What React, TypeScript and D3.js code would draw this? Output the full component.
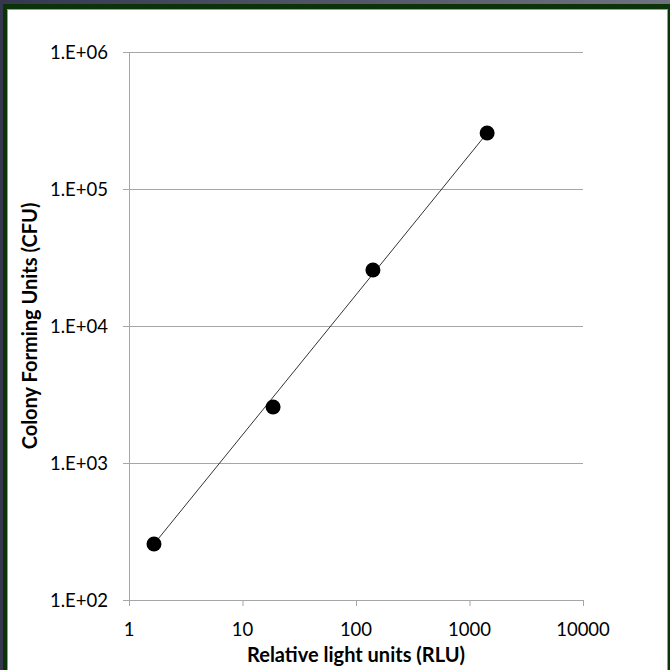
import React, { useEffect, useRef } from "react";
import * as d3 from "d3";

const rluValues = [1.66, 18.6, 141, 1430];
const cfuValues = [256, 2560, 25600, 256000];
const xTicks = [1, 10, 100, 1000, 10000];
const yTicks = [1e2, 1e3, 1e4, 1e5, 1e6];
const yTickLabels = ["1.E+02", "1.E+03", "1.E+04", "1.E+05", "1.E+06"];

const W = 670,
  H = 670;

const App = () => {
  const ref = useRef<SVGSVGElement>(null);

  useEffect(() => {
    const svg = d3.select(ref.current);
    svg.selectAll("*").remove();

    const font = "Lato, 'Open Sans', sans-serif";

    // background frame
    const grad = svg
      .append("defs")
      .append("linearGradient")
      .attr("id", "topgrad")
      .attr("x1", "0")
      .attr("x2", "1");
    grad.append("stop").attr("offset", "0").attr("stop-color", "#35374f");
    grad.append("stop").attr("offset", "1").attr("stop-color", "#70727f");

    svg.append("rect").attr("width", W).attr("height", H).attr("fill", "url(#topgrad)");
    svg
      .append("rect")
      .attr("x", 3)
      .attr("y", 4)
      .attr("width", W - 3)
      .attr("height", H - 4)
      .attr("fill", "#0b3308");
    svg
      .append("rect")
      .attr("x", 7)
      .attr("y", 9)
      .attr("width", W - 9)
      .attr("height", H - 9)
      .attr("fill", "#9a9a9a");
    svg
      .append("rect")
      .attr("x", 8)
      .attr("y", 10)
      .attr("width", W - 11)
      .attr("height", H - 10)
      .attr("fill", "#ffffff");

    const x = d3.scaleLog().domain([1, 10000]).range([129, 583]);
    const y = d3.scaleLog().domain([100, 1e6]).range([600, 52]);

    // horizontal gridlines
    svg
      .append("g")
      .selectAll("line")
      .data(yTicks)
      .join("line")
      .attr("x1", 123)
      .attr("x2", 583)
      .attr("y1", (d) => y(d) + 0.5)
      .attr("y2", (d) => y(d) + 0.5)
      .attr("stroke", "#a6a6a6")
      .attr("stroke-width", 1);

    // y axis line
    svg
      .append("line")
      .attr("x1", 129.5)
      .attr("x2", 129.5)
      .attr("y1", 52)
      .attr("y2", 600)
      .attr("stroke", "#a6a6a6");

    // x axis ticks
    svg
      .append("g")
      .selectAll("line")
      .data(xTicks)
      .join("line")
      .attr("x1", (d) => x(d) + 0.5)
      .attr("x2", (d) => x(d) + 0.5)
      .attr("y1", 600)
      .attr("y2", 606)
      .attr("stroke", "#a6a6a6");

    // tick labels
    svg
      .append("g")
      .selectAll("text")
      .data(yTicks)
      .join("text")
      .attr("x", 108)
      .attr("y", (d) => y(d))
      .attr("dy", "0.36em")
      .attr("text-anchor", "end")
      .attr("font-family", font)
      .attr("font-size", 18.5)
      .attr("fill", "#000")
      .text((d, i) => yTickLabels[i]);

    svg
      .append("g")
      .selectAll("text")
      .data(xTicks)
      .join("text")
      .attr("x", (d) => x(d))
      .attr("y", 636)
      .attr("text-anchor", "middle")
      .attr("font-family", font)
      .attr("font-size", 18.5)
      .attr("fill", "#000")
      .text((d) => String(d));

    // axis titles
    svg
      .append("text")
      .attr("x", 356)
      .attr("y", 662)
      .attr("text-anchor", "middle")
      .attr("font-family", font)
      .attr("font-weight", "bold")
      .attr("font-size", 20)
      .text("Relative light units (RLU)");

    svg
      .append("text")
      .attr("transform", "translate(37,326) rotate(-90)")
      .attr("text-anchor", "middle")
      .attr("font-family", font)
      .attr("font-weight", "bold")
      .attr("font-size", 20)
      .text("Colony Forming Units (CFU)");

    // trend line
    const n = rluValues.length;
    svg
      .append("line")
      .attr("x1", x(rluValues[0]))
      .attr("y1", y(cfuValues[0]))
      .attr("x2", x(rluValues[n - 1]))
      .attr("y2", y(cfuValues[n - 1]))
      .attr("stroke", "#333")
      .attr("stroke-width", 1);

    // points
    svg
      .append("g")
      .selectAll("circle")
      .data(rluValues)
      .join("circle")
      .attr("cx", (d) => x(d))
      .attr("cy", (d, i) => y(cfuValues[i]))
      .attr("r", 7.5)
      .attr("fill", "#000");
  }, []);

  return (
    <svg
      ref={ref}
      width={W}
      height={H}
      style={{ position: "absolute", left: 0, top: 0, display: "block" }}
    />
  );
};

export default App;
